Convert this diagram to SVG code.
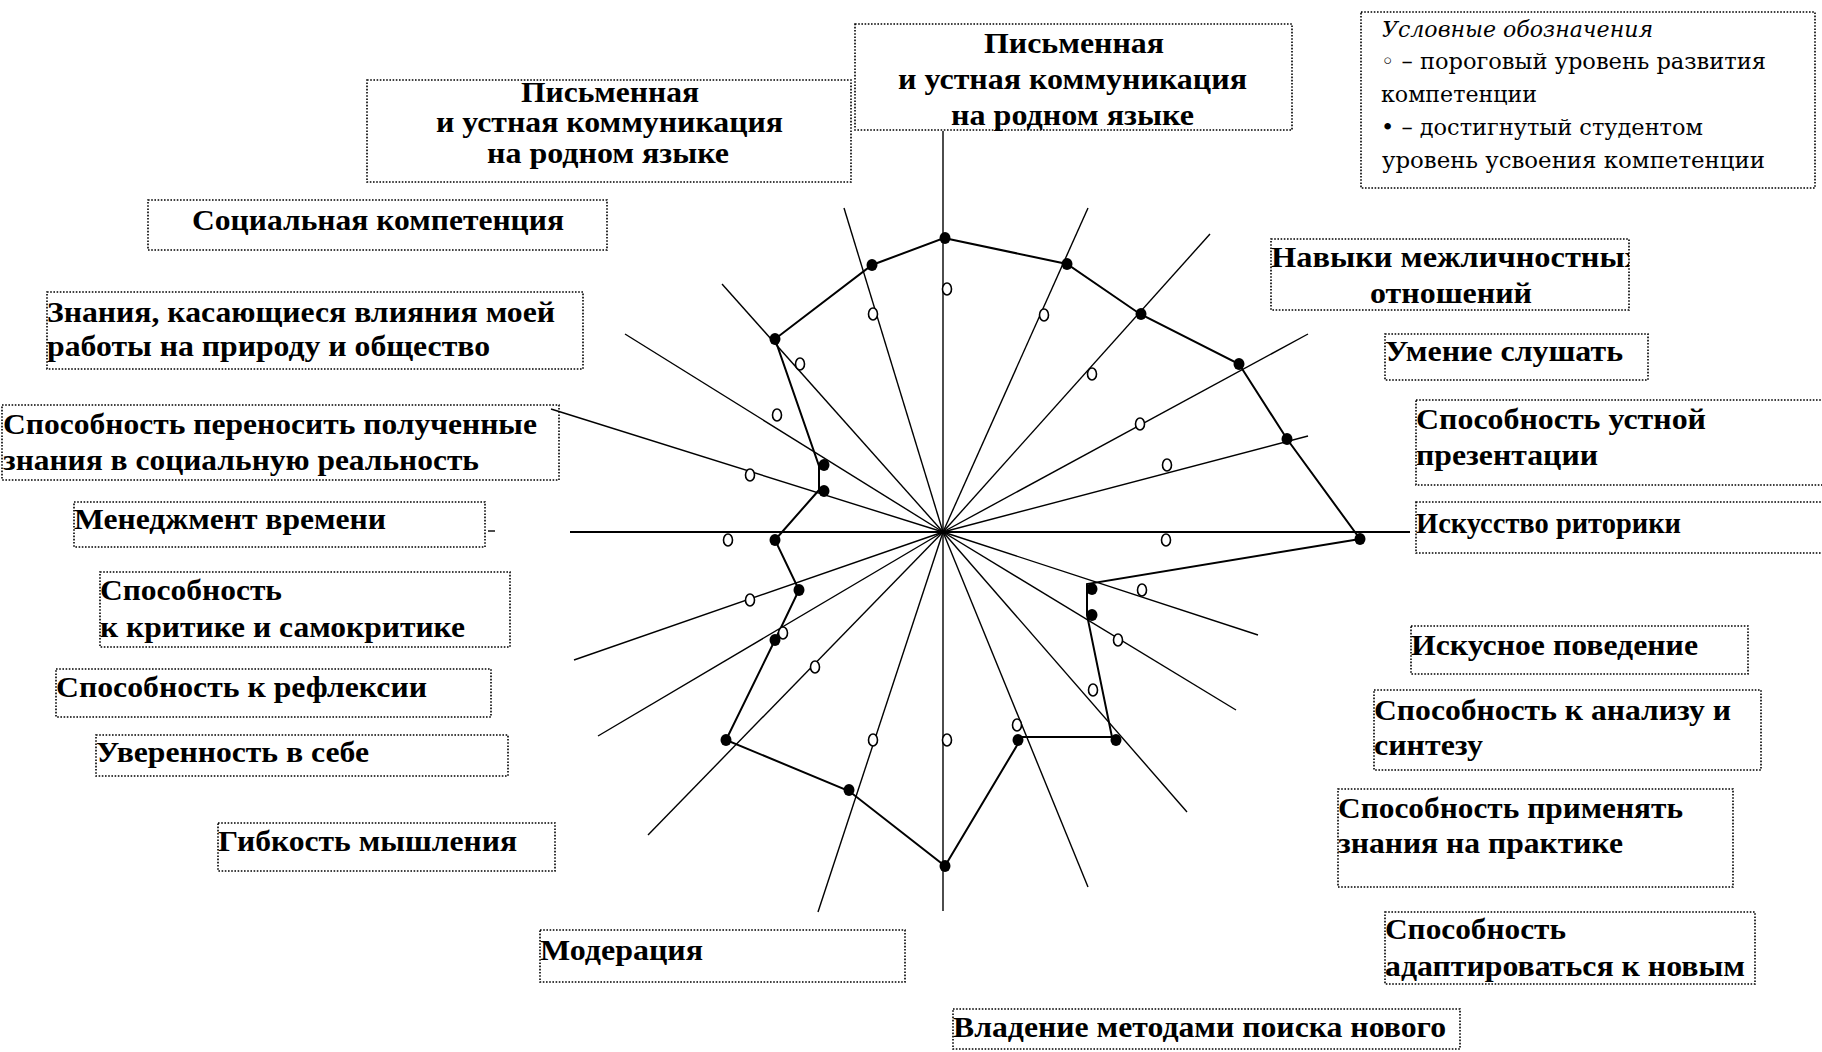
<svg xmlns="http://www.w3.org/2000/svg" width="1822" height="1052" viewBox="0 0 1822 1052">
<style>
.box{fill:none;stroke:#000;stroke-width:1.6;stroke-dasharray:1.6 1.6}
.lbl{font-family:"Liberation Serif","Times New Roman",serif;font-weight:bold;font-size:30px;fill:#000}
.leg{font-family:"DejaVu Serif","Liberation Serif",serif;font-size:22px;fill:#000}
.ray{stroke:#000;stroke-width:1.4;fill:none}
.poly{fill:none;stroke:#000;stroke-width:2}
.full{fill:#000}
.open{fill:#fff;stroke:#000;stroke-width:1.6}
</style>
<defs>
<clipPath id="clipNav"><rect x="1271" y="239" width="358" height="71"/></clipPath>
</defs>
<rect x="0" y="0" width="1822" height="1052" fill="#fff"/>

<g id="axes">
<line class="ray" x1="943" y1="131" x2="943" y2="911"/>
<line class="ray" x1="570" y1="532" x2="1410" y2="532" style="stroke-width:2"/>
<line class="ray" x1="943" y1="532" x2="1088" y2="208"/>
<line class="ray" x1="943" y1="532" x2="1210" y2="234"/>
<line class="ray" x1="943" y1="532" x2="1308" y2="334"/>
<line class="ray" x1="943" y1="532" x2="1308" y2="436"/>
<line class="ray" x1="943" y1="532" x2="1258" y2="635"/>
<line class="ray" x1="943" y1="532" x2="1236" y2="710"/>
<line class="ray" x1="943" y1="532" x2="1187" y2="812"/>
<line class="ray" x1="943" y1="532" x2="1088" y2="887"/>
<line class="ray" x1="943" y1="532" x2="818" y2="912"/>
<line class="ray" x1="943" y1="532" x2="648" y2="835"/>
<line class="ray" x1="943" y1="532" x2="598" y2="736"/>
<line class="ray" x1="943" y1="532" x2="574" y2="660"/>
<line class="ray" x1="943" y1="532" x2="551" y2="409"/>
<line class="ray" x1="943" y1="532" x2="625" y2="334"/>
<line class="ray" x1="943" y1="532" x2="722" y2="284"/>
<line class="ray" x1="943" y1="532" x2="844" y2="208"/>
<line class="ray" x1="488" y1="531" x2="495" y2="531"/>
</g>

<g id="connectors">
<polygon class="poly" points="944,238 1067,264 1140,314 1239,364 1287,439 1360,539 1087,584 1087,615 1112,737 1022,737 945,866 849,791 726,740 775,640 799,590 775,540 819,490 819,466 775,339 872,265"/>
</g>

<g id="threshold-points">
<ellipse class="open" cx="947" cy="289" rx="4.5" ry="6"/>
<ellipse class="open" cx="1044" cy="315" rx="4.5" ry="6"/>
<ellipse class="open" cx="1092" cy="374" rx="4.5" ry="6"/>
<ellipse class="open" cx="1140" cy="424" rx="4.5" ry="6"/>
<ellipse class="open" cx="1167" cy="465" rx="4.5" ry="6"/>
<ellipse class="open" cx="1166" cy="540" rx="4.5" ry="6"/>
<ellipse class="open" cx="1142" cy="590" rx="4.5" ry="6"/>
<ellipse class="open" cx="1118" cy="640" rx="4.5" ry="6"/>
<ellipse class="open" cx="1093" cy="690" rx="4.5" ry="6"/>
<ellipse class="open" cx="1017" cy="725" rx="4.5" ry="6"/>
<ellipse class="open" cx="947" cy="740" rx="4.5" ry="6"/>
<ellipse class="open" cx="873" cy="740" rx="4.5" ry="6"/>
<ellipse class="open" cx="815" cy="667" rx="4.5" ry="6"/>
<ellipse class="open" cx="783" cy="633" rx="4.5" ry="6"/>
<ellipse class="open" cx="750" cy="600" rx="4.5" ry="6"/>
<ellipse class="open" cx="728" cy="540" rx="4.5" ry="6"/>
<ellipse class="open" cx="750" cy="475" rx="4.5" ry="6"/>
<ellipse class="open" cx="777" cy="415" rx="4.5" ry="6"/>
<ellipse class="open" cx="800" cy="364" rx="4.5" ry="6"/>
<ellipse class="open" cx="873" cy="314" rx="4.5" ry="6"/>
</g>

<g id="student-points">
<ellipse class="full" cx="945" cy="238" rx="5.5" ry="6"/>
<ellipse class="full" cx="1067" cy="264" rx="5.5" ry="6"/>
<ellipse class="full" cx="1141" cy="314" rx="5.5" ry="6"/>
<ellipse class="full" cx="1239" cy="364" rx="5.5" ry="6"/>
<ellipse class="full" cx="1287" cy="439" rx="5.5" ry="6"/>
<ellipse class="full" cx="1360" cy="539" rx="5.5" ry="6"/>
<ellipse class="full" cx="1092" cy="589" rx="5.5" ry="6"/>
<ellipse class="full" cx="1092" cy="615" rx="5.5" ry="6"/>
<ellipse class="full" cx="1116" cy="740" rx="5.5" ry="6"/>
<ellipse class="full" cx="1018" cy="740" rx="5.5" ry="6"/>
<ellipse class="full" cx="945" cy="866" rx="5.5" ry="6"/>
<ellipse class="full" cx="849" cy="790" rx="5.5" ry="6"/>
<ellipse class="full" cx="726" cy="740" rx="5.5" ry="6"/>
<ellipse class="full" cx="775" cy="640" rx="5.5" ry="6"/>
<ellipse class="full" cx="799" cy="590" rx="5.5" ry="6"/>
<ellipse class="full" cx="775" cy="540" rx="5.5" ry="6"/>
<ellipse class="full" cx="824" cy="491" rx="5.5" ry="6"/>
<ellipse class="full" cx="824" cy="465" rx="5.5" ry="6"/>
<ellipse class="full" cx="775" cy="339" rx="5.5" ry="6"/>
<ellipse class="full" cx="872" cy="265" rx="5.5" ry="6"/>
</g>

<g id="legend">
<rect class="box" x="1361" y="12" width="454" height="176"/>
<text class="leg" x="1382" y="37" font-style="italic" textLength="271" lengthAdjust="spacingAndGlyphs">Условные обозначения</text>
<text class="leg" x="1381" y="69" textLength="385" lengthAdjust="spacingAndGlyphs">◦ – пороговый уровень развития</text>
<text class="leg" x="1381" y="102" textLength="156" lengthAdjust="spacingAndGlyphs">компетенции</text>
<text class="leg" x="1381" y="135" textLength="322" lengthAdjust="spacingAndGlyphs">• – достигнутый студентом</text>
<text class="leg" x="1382" y="168" textLength="383" lengthAdjust="spacingAndGlyphs">уровень усвоения компетенции</text>
</g>

<g id="node-top">
<rect class="box" x="855" y="24" width="437" height="106"/>
<text class="lbl" x="984" y="53" textLength="180" lengthAdjust="spacingAndGlyphs">Письменная</text>
<text class="lbl" x="898" y="89" textLength="349" lengthAdjust="spacingAndGlyphs">и устная коммуникация</text>
<text class="lbl" x="951" y="125" textLength="243" lengthAdjust="spacingAndGlyphs">на родном языке</text>
</g>

<g id="node-left-top">
<rect class="box" x="367" y="80" width="484" height="102"/>
<text class="lbl" x="521" y="102" textLength="178" lengthAdjust="spacingAndGlyphs">Письменная</text>
<text class="lbl" x="436" y="132" textLength="347" lengthAdjust="spacingAndGlyphs">и устная коммуникация</text>
<text class="lbl" x="487" y="163" textLength="242" lengthAdjust="spacingAndGlyphs">на родном языке</text>
</g>

<g id="node-social">
<rect class="box" x="148" y="200" width="459" height="50"/>
<text class="lbl" x="192" y="230" textLength="372" lengthAdjust="spacingAndGlyphs">Социальная компетенция</text>
</g>

<g id="node-knowledge">
<rect class="box" x="47" y="292" width="536" height="77"/>
<text class="lbl" x="47" y="322" textLength="508" lengthAdjust="spacingAndGlyphs">Знания, касающиеся влияния моей</text>
<text class="lbl" x="47" y="356" textLength="443" lengthAdjust="spacingAndGlyphs">работы на природу и общество</text>
</g>

<g id="node-transfer">
<rect class="box" x="2" y="405" width="557" height="75"/>
<text class="lbl" x="3" y="434" textLength="534" lengthAdjust="spacingAndGlyphs">Способность переносить полученные</text>
<text class="lbl" x="3" y="470" textLength="476" lengthAdjust="spacingAndGlyphs">знания в социальную реальность</text>
</g>

<g id="node-time">
<rect class="box" x="74" y="502" width="411" height="45"/>
<text class="lbl" x="74" y="529" textLength="312" lengthAdjust="spacingAndGlyphs">Менеджмент времени</text>
</g>

<g id="node-critique">
<rect class="box" x="100" y="572" width="410" height="75"/>
<text class="lbl" x="100" y="600" textLength="182" lengthAdjust="spacingAndGlyphs">Способность</text>
<text class="lbl" x="100" y="637" textLength="365" lengthAdjust="spacingAndGlyphs">к критике и самокритике</text>
</g>

<g id="node-reflection">
<rect class="box" x="56" y="669" width="435" height="48"/>
<text class="lbl" x="56" y="697" textLength="371" lengthAdjust="spacingAndGlyphs">Способность к рефлексии</text>
</g>

<g id="node-confidence">
<rect class="box" x="96" y="735" width="412" height="41"/>
<text class="lbl" x="96" y="762" textLength="273" lengthAdjust="spacingAndGlyphs">Уверенность в себе</text>
</g>

<g id="node-flexibility">
<rect class="box" x="218" y="823" width="337" height="48"/>
<text class="lbl" x="218" y="851" textLength="299" lengthAdjust="spacingAndGlyphs">Гибкость мышления</text>
</g>

<g id="node-moderation">
<rect class="box" x="540" y="930" width="365" height="52"/>
<text class="lbl" x="540" y="960" textLength="163" lengthAdjust="spacingAndGlyphs">Модерация</text>
</g>

<g id="node-search">
<rect class="box" x="953" y="1009" width="507" height="40"/>
<text class="lbl" x="953" y="1037" textLength="493" lengthAdjust="spacingAndGlyphs">Владение методами поиска нового</text>
</g>

<g id="node-interpersonal">
<rect class="box" x="1271" y="239" width="358" height="71"/>
<text class="lbl" x="1271" y="267" textLength="370" lengthAdjust="spacingAndGlyphs" clip-path="url(#clipNav)">Навыки межличностных</text>
<text class="lbl" x="1370" y="303" textLength="162" lengthAdjust="spacingAndGlyphs">отношений</text>
</g>

<g id="node-listening">
<rect class="box" x="1385" y="334" width="263" height="46"/>
<text class="lbl" x="1385" y="361" textLength="238" lengthAdjust="spacingAndGlyphs">Умение слушать</text>
</g>

<g id="node-presentation">
<rect class="box" x="1416" y="400" width="420" height="85"/>
<text class="lbl" x="1416" y="429" textLength="290" lengthAdjust="spacingAndGlyphs">Способность устной</text>
<text class="lbl" x="1416" y="465" textLength="182" lengthAdjust="spacingAndGlyphs">презентации</text>
</g>

<g id="node-rhetoric">
<rect class="box" x="1416" y="502" width="420" height="51"/>
<text class="lbl" x="1416" y="533" textLength="265" lengthAdjust="spacingAndGlyphs">Искусство риторики</text>
</g>

<g id="node-behaviour">
<rect class="box" x="1411" y="626" width="337" height="48"/>
<text class="lbl" x="1411" y="655" textLength="287" lengthAdjust="spacingAndGlyphs">Искусное поведение</text>
</g>

<g id="node-analysis">
<rect class="box" x="1374" y="690" width="387" height="80"/>
<text class="lbl" x="1374" y="720" textLength="357" lengthAdjust="spacingAndGlyphs">Способность к анализу и</text>
<text class="lbl" x="1374" y="755" textLength="109" lengthAdjust="spacingAndGlyphs">синтезу</text>
</g>

<g id="node-practice">
<rect class="box" x="1338" y="789" width="395" height="98"/>
<text class="lbl" x="1338" y="818" textLength="345" lengthAdjust="spacingAndGlyphs">Способность применять</text>
<text class="lbl" x="1338" y="853" textLength="285" lengthAdjust="spacingAndGlyphs">знания на практике</text>
</g>

<g id="node-adapt">
<rect class="box" x="1385" y="912" width="370" height="72"/>
<text class="lbl" x="1385" y="939" textLength="181" lengthAdjust="spacingAndGlyphs">Способность</text>
<text class="lbl" x="1385" y="976" textLength="360" lengthAdjust="spacingAndGlyphs">адаптироваться к новым</text>
</g>
</svg>
